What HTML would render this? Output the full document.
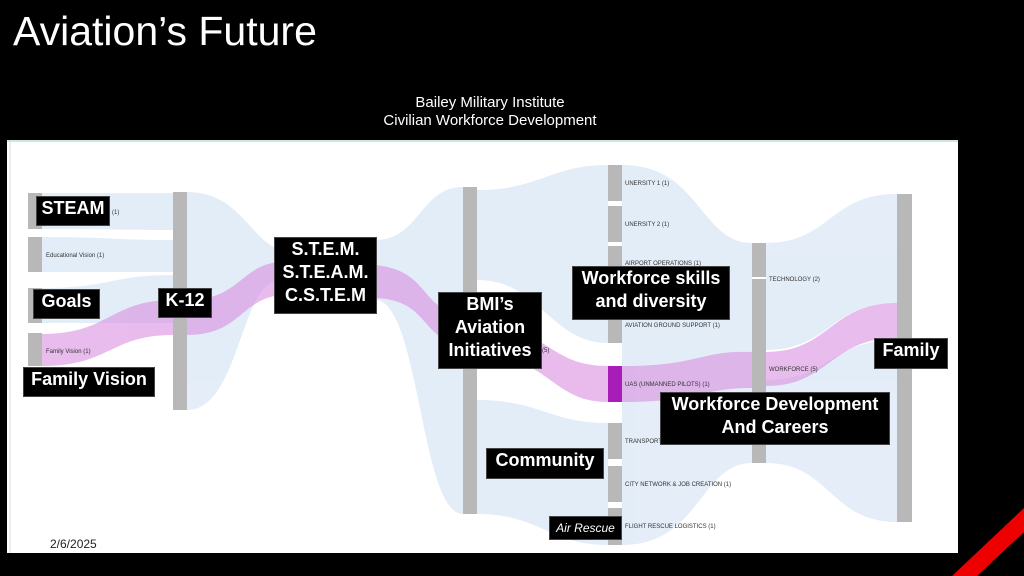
<!DOCTYPE html>
<html><head><meta charset="utf-8"><style>
body{margin:0;background:#000;width:1024px;height:576px;overflow:hidden;position:relative;font-family:"Liberation Sans",sans-serif}
.t{position:absolute;color:#fff}
.b{position:absolute;background:#000;color:#fff;font-weight:bold;text-align:center;line-height:23px;font-size:18px;border:1px solid #444;box-sizing:border-box}
</style></head><body>
<div class="t" style="left:13px;top:8px;font-size:41px">Aviation’s Future</div>
<div class="t" style="left:350px;top:94px;width:280px;text-align:center;font-size:15px;line-height:18px">Bailey Military Institute<br>Civilian Workforce Development</div>
<svg style="position:absolute;left:0;top:0" width="1024" height="576">
<rect x="7" y="140" width="951" height="413" fill="#fff"/>
<line x1="7" y1="141" x2="958" y2="141" stroke="#cfe8dc" stroke-width="2"/>
<g stroke="#ddd" stroke-width="1">
<line x1="10" y1="140" x2="10" y2="553"/>
</g>
<g fill="#c9dcf2" opacity="0.5">
<path d="M42 193 C110 193,110 193,173 193 L173 230 C110 230,110 229,42 229Z"/>
<path d="M42 237 C110 237,110 240,173 240 L173 272 C110 272,110 272,42 272Z"/>
<path d="M42 288 C110 288,110 275,173 275 L173 323 C110 323,110 323,42 323Z"/>
<path d="M187 192 C240 192,250 240,280 250 L280 280 C240 280,240 410,187 410Z"/>
<path d="M375 240 C420 240,420 187,463 187 L463 514 C420 514,420 300,375 300Z"/>
<path d="M477 190 C540 190,550 165,608 165 L608 250 C550 250,540 250,477 250Z"/>
<path d="M477 250 C540 250,550 206,608 206 L608 343 C550 343,540 280,477 280Z"/>
<path d="M477 400 C540 400,550 423,608 423 L608 545 C550 545,540 514,477 514Z"/>
<path d="M622 165 C700 165,700 243,752 243 L752 300 C700 300,700 250,622 250Z"/>
<path d="M622 206 C700 206,700 300,752 300 L752 463 C700 463,700 545,622 545Z"/>
<path d="M766 243 C830 243,830 194,897 194 L897 303 C830 303,830 350,766 350Z"/>
<path d="M766 380 C830 380,830 340,897 340 L897 522 C830 522,830 463,766 463Z"/>
</g>
<g fill="#d98fe0" opacity="0.6">
<path d="M42 334 C110 334,110 300,173 300 L173 335 C110 335,110 366,42 366Z"/>
<path d="M187 300 C240 300,240 265,280 262 L280 295 C240 300,240 335,187 335Z"/>
<path d="M375 265 C430 270,420 310,463 315 L463 345 C420 340,430 300,375 298Z"/>
<path d="M477 320 C550 330,550 366,608 366 L608 402 C550 402,550 355,477 355Z"/>
<path d="M622 366 C700 366,700 350,752 352 L752 388 C700 388,700 402,622 402Z"/>
<path d="M766 352 C830 352,830 303,897 303 L897 338 C830 338,830 386,766 386Z"/>
</g>
<g fill="#b8b8b8">
<rect x="28" y="193" width="14" height="36"/><rect x="28" y="237" width="14" height="35"/>
<rect x="28" y="288" width="14" height="35"/><rect x="28" y="333" width="14" height="33"/>
<rect x="173" y="192" width="14" height="218"/>
<rect x="463" y="187" width="14" height="327"/>
<rect x="608" y="165" width="14" height="36"/><rect x="608" y="206" width="14" height="36"/>
<rect x="608" y="246" width="14" height="97"/>
<rect x="608" y="423" width="14" height="36"/><rect x="608" y="466" width="14" height="36"/>
<rect x="608" y="508" width="14" height="37"/>
<rect x="752" y="243" width="14" height="34"/><rect x="752" y="279" width="14" height="184"/>
<rect x="897" y="194" width="15" height="328"/>
</g>
<rect x="608" y="366" width="14" height="36" fill="#a81cb8"/>
<g font-size="6" fill="#333" font-family="Liberation Sans">
<text x="112" y="214">(1)</text><text x="46" y="257">Educational Vision (1)</text>
<text x="46" y="353">Family Vision (1)</text><text x="542" y="352">(5)</text>
<text x="625" y="185">UNERSITY 1 (1)</text><text x="625" y="226">UNERSITY 2 (1)</text>
<text x="625" y="265">AIRPORT OPERATIONS (1)</text><text x="625" y="327">AVIATION GROUND SUPPORT (1)</text>
<text x="625" y="386">UAS (UNMANNED PILOTS) (1)</text><text x="625" y="443">TRANSPORT</text>
<text x="625" y="486">CITY NETWORK &amp; JOB CREATION (1)</text><text x="625" y="528">FLIGHT RESCUE LOGISTICS (1)</text>
<text x="769" y="281">TECHNOLOGY (2)</text><text x="769" y="371">WORKFORCE (5)</text>
</g>
<polygon points="952,576 1024,508 1024,532 977,576" fill="#e00"/>
</svg>
<div class="b" style="left:36px;top:196px;width:74px;height:30px">STEAM</div>
<div class="b" style="left:33px;top:289px;width:67px;height:30px">Goals</div>
<div class="b" style="left:23px;top:367px;width:132px;height:30px">Family Vision</div>
<div class="b" style="left:158px;top:288px;width:54px;height:30px">K-12</div>
<div class="b" style="left:274px;top:237px;width:103px;height:77px">S.T.E.M.<br>S.T.E.A.M.<br>C.S.T.E.M</div>
<div class="b" style="left:438px;top:292px;width:104px;height:77px">BMI’s<br>Aviation<br>Initiatives</div>
<div class="b" style="left:572px;top:266px;width:158px;height:54px">Workforce skills<br>and diversity</div>
<div class="b" style="left:660px;top:392px;width:230px;height:53px">Workforce Development<br>And Careers</div>
<div class="b" style="left:874px;top:338px;width:74px;height:31px">Family</div>
<div class="b" style="left:486px;top:448px;width:118px;height:31px">Community</div>
<div class="b" style="left:549px;top:516px;width:73px;height:24px;font-weight:normal;font-style:italic;font-size:12px">Air Rescue</div>
<div class="t" style="left:50px;top:537px;font-size:12px;color:#222">2/6/2025</div>
</body></html>
